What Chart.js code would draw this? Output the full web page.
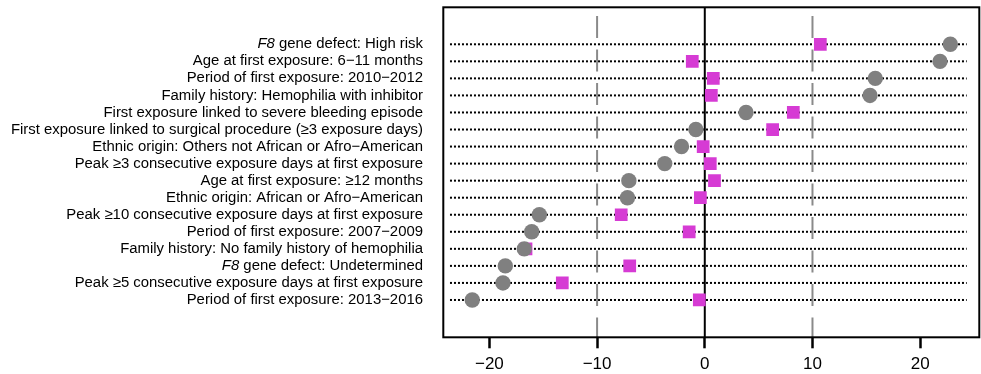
<!DOCTYPE html>
<html>
<head>
<meta charset="utf-8">
<script src="https://cdn.jsdelivr.net/npm/chart.js@4/dist/chart.umd.min.js"></script>
<style>
  html, body { margin: 0; padding: 0; background: #ffffff; }
  #wrap { width: 981px; height: 374px; position: relative; }
</style>
</head>
<body>
<div id="wrap"><canvas id="chart" width="981" height="374"></canvas></div>
<script>
// Risk factors, listed top to bottom
const categories = [
  "F8 gene defect: High risk",
  "Age at first exposure: 6\u221211 months",
  "Period of first exposure: 2010\u22122012",
  "Family history: Hemophilia with inhibitor",
  "First exposure linked to severe bleeding episode",
  "First exposure linked to surgical procedure (\u22653 exposure days)",
  "Ethnic origin: Others not African or Afro\u2212American",
  "Peak \u22653 consecutive exposure days at first exposure",
  "Age at first exposure: \u226512 months",
  "Ethnic origin: African or Afro\u2212American",
  "Peak \u226510 consecutive exposure days at first exposure",
  "Period of first exposure: 2007\u22122009",
  "Family history: No family history of hemophilia",
  "F8 gene defect: Undetermined",
  "Peak \u22655 consecutive exposure days at first exposure",
  "Period of first exposure: 2013\u22122016"
];

// Grey circles
const circleValues = [22.8, 21.84, 15.83, 15.34, 3.83, -0.83, -2.16, -3.72,
                      -7.05, -7.18, -15.36, -16.07, -16.76, -18.52, -18.74, -21.59];

// Magenta squares
const squareValues = [10.73, -1.16, 0.79, 0.61, 8.22, 6.3, -0.15, 0.51,
                      0.9, -0.41, -7.76, -1.45, -16.6, -6.97, -13.23, -0.51];

// Axis ticks and reference lines
const xTicks = [-20, -10, 0, 10, 20];
const dashedRefs = [-10, 10];
const solidRef = 0;

// Layout constants
const X_MIN = -24.28, X_MAX = 25.49;
const Y_MIN = -1.19, Y_MAX = 18.17;
const ROW_LINE_FROM = -23.66, ROW_LINE_TO = 24.32;
const DASH_TOP = 17.66;
const LABEL_RIGHT = 423;
const LABEL_FONT = '14.9px "Liberation Sans", Arial, sans-serif';
const LABEL_FONT_IT = 'italic 14.9px "Liberation Sans", Arial, sans-serif';

const n = categories.length;
const rowY = i => n - i;

const datasets = [];

datasets.push({
  label: 'circles',
  data: circleValues.map((v, i) => ({ x: v, y: rowY(i) })),
  pointStyle: 'circle',
  pointRadius: 7.7,
  pointBorderWidth: 0,
  backgroundColor: '#808080',
  borderColor: '#808080',
  showLine: false,
  order: 0
});

datasets.push({
  label: 'squares',
  data: squareValues.map((v, i) => ({ x: v, y: rowY(i) })),
  pointStyle: 'rect',
  pointRadius: 9,
  pointBorderWidth: 0,
  backgroundColor: '#d63bd4',
  borderColor: '#d63bd4',
  showLine: false,
  order: 1
});

datasets.push({
  label: 'zero',
  data: [{ x: solidRef, y: Y_MAX }, { x: solidRef, y: Y_MIN }],
  showLine: true,
  borderColor: '#000000',
  borderWidth: 2,
  pointRadius: 0,
  order: 2
});

dashedRefs.forEach(v => {
  datasets.push({
    label: 'ref' + v,
    data: [{ x: v, y: DASH_TOP }, { x: v, y: Y_MIN }],
    showLine: true,
    borderColor: '#8a8a8a',
    borderWidth: 2,
    borderDash: [22, 11.5],
    pointRadius: 0,
    order: 3
  });
});

categories.forEach((c, i) => {
  datasets.push({
    label: 'row' + i,
    data: [{ x: ROW_LINE_FROM, y: rowY(i) }, { x: ROW_LINE_TO, y: rowY(i) }],
    showLine: true,
    borderColor: '#000000',
    borderWidth: 2,
    borderDash: [2, 2],
    pointRadius: 0,
    order: 4
  });
});

// Row labels (with italic gene name) and the plot frame
const framePlugin = {
  id: 'frame',
  afterDraw(chart) {
    const ctx = chart.ctx;
    const a = chart.chartArea;
    const ys = chart.scales.y;
    ctx.save();
    ctx.strokeStyle = '#000000';
    ctx.lineWidth = 2;
    ctx.strokeRect(a.left, a.top, a.right - a.left, a.bottom - a.top);
    ctx.fillStyle = '#000000';
    ctx.textBaseline = 'middle';
    ctx.textAlign = 'right';
    categories.forEach((c, i) => {
      const y = ys.getPixelForValue(rowY(i));
      if (c.startsWith('F8 ')) {
        const rest = c.slice(2);
        ctx.font = LABEL_FONT;
        const w = ctx.measureText(rest).width;
        ctx.fillText(rest, LABEL_RIGHT, y);
        ctx.font = LABEL_FONT_IT;
        ctx.fillText('F8', LABEL_RIGHT - w, y);
      } else {
        ctx.font = LABEL_FONT;
        ctx.fillText(c, LABEL_RIGHT, y);
      }
    });
    ctx.restore();
  }
};

new Chart(document.getElementById('chart'), {
  type: 'scatter',
  data: { datasets },
  options: {
    responsive: false,
    animation: false,
    devicePixelRatio: 1,
    layout: { autoPadding: false, padding: { top: 7.3, right: 1.7, left: 0, bottom: 0 } },
    plugins: { legend: { display: false }, tooltip: { enabled: false } },
    scales: {
      x: {
        type: 'linear',
        min: X_MIN,
        max: X_MAX,
        afterBuildTicks: s => { s.ticks = xTicks.map(v => ({ value: v })); },
        afterFit: s => { s.height = 36.7; s.paddingLeft = 0; s.paddingRight = 0; },
        border: { display: false },
        grid: {
          drawOnChartArea: false,
          drawTicks: true,
          tickLength: 11,
          tickWidth: 2.5,
          tickColor: '#000000'
        },
        ticks: {
          color: '#000000',
          padding: 6,
          font: { family: '"Liberation Sans", Arial, sans-serif', size: 17 },
          callback: v => (v < 0 ? '\u2212' + Math.abs(v) : String(v))
        }
      },
      y: {
        type: 'linear',
        min: Y_MIN,
        max: Y_MAX,
        afterFit: s => { s.width = 443.3; s.paddingTop = 0; s.paddingBottom = 0; },
        border: { display: false },
        grid: { display: false },
        ticks: { display: false }
      }
    }
  },
  plugins: [framePlugin]
});
</script>
</body>
</html>
